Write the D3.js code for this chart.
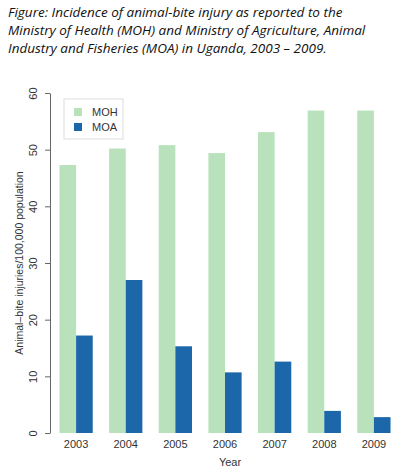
<!DOCTYPE html>
<html lang="en">
<head>
  <meta charset="UTF-8">
  <script src="https://d3js.org/d3.v7.min.js"></script>
  <style>
    body { margin: 0; background: #fff; }
    svg { font-family: "Liberation Sans", Arial, sans-serif; }
    .title { font-family: "Open Sans", sans-serif; font-style: italic; font-size: 13.5px; fill: #111; }
    .axis text { font-size: 11px; fill: #333; }
    .axis path, .axis line { stroke: #666; }
  </style>
</head>
<body>
<script>
  const years = ["2003", "2004", "2005", "2006", "2007", "2008", "2009"];
  const mohValues = [47.3, 50.2, 50.8, 49.4, 53.1, 56.9, 56.9];
  const moaValues = [17.2, 27.0, 15.3, 10.7, 12.6, 3.9, 2.8];
  const series = ["MOH", "MOA"];
  const colors = ["#b9e2bc", "#1b67aa"];
  const yTicks = [0, 10, 20, 30, 40, 50, 60];
  const titleLines = [
    "Figure: Incidence of animal-bite injury as reported to the",
    "Ministry of Health (MOH) and Ministry of Agriculture, Animal",
    "Industry and Fisheries (MOA) in Uganda, 2003 \u2013 2009."
  ];

  const width = 403, height = 473;
  const svg = d3.select("body").append("svg").attr("width", width).attr("height", height);

  svg.selectAll(".title").data(titleLines).join("text")
    .attr("class", "title")
    .attr("x", 8)
    .attr("y", (d, i) => 17 + i * 18)
    .text(d => d);

  const x = d3.scaleBand().domain(years).range([56, 394]).paddingInner(0.33).paddingOuter(0.07);
  const inner = d3.scaleBand().domain(series).range([0, x.bandwidth()]);
  const y = d3.scaleLinear().domain([0, 60]).range([433, 93]);

  const rows = years.map((yr, i) => ({ year: yr, MOH: mohValues[i], MOA: moaValues[i] }));

  const g = svg.append("g");
  rows.forEach(r => {
    series.forEach((s, j) => {
      g.append("rect")
        .attr("x", x(r.year) + inner(s))
        .attr("y", y(r[s]))
        .attr("width", inner.bandwidth())
        .attr("height", y(0) - y(r[s]))
        .attr("fill", colors[j]);
    });
  });

  svg.append("g").attr("class", "axis")
    .attr("transform", "translate(0,433)")
    .call(d3.axisBottom(x).tickSize(0).tickPadding(7))
    .call(a => a.select(".domain").remove());

  const ya = svg.append("g").attr("class", "axis")
    .attr("transform", "translate(50,0)")
    .call(d3.axisLeft(y).tickValues(yTicks).tickSize(5).tickSizeOuter(0).tickPadding(4));
  ya.selectAll(".tick text")
    .attr("transform", "rotate(-90)")
    .attr("x", 0).attr("y", -13)
    .attr("text-anchor", "middle")
    .attr("dy", 0);

  svg.append("text")
    .attr("x", (x.range()[0] + x.range()[1]) / 2 + 5).attr("y", 466)
    .attr("text-anchor", "middle").attr("font-size", 11).attr("fill", "#333")
    .text("Year");

  svg.append("text")
    .attr("transform", "translate(23,263) rotate(-90)")
    .attr("text-anchor", "middle").attr("font-size", 10.5).attr("fill", "#333")
    .text("Animal\u2013bite injuries/100,000 population");

  const leg = svg.append("g").attr("transform", "translate(64,99)");
  leg.append("rect").attr("width", 59).attr("height", 40)
    .attr("fill", "#fff").attr("stroke", "#ddd");
  series.forEach((s, i) => {
    leg.append("rect").attr("x", 10).attr("y", 9 + i * 15).attr("width", 8).attr("height", 8).attr("fill", colors[i]);
    leg.append("text").attr("x", 28).attr("y", 17 + i * 15).attr("font-size", 11).attr("fill", "#333").text(s);
  });
</script>
</body>
</html>
